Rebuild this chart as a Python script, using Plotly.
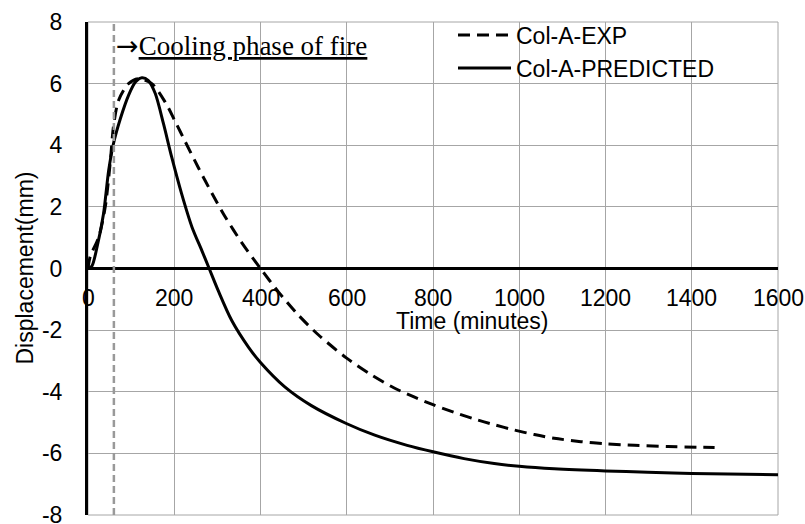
import plotly.graph_objects as go

# ---- data ----
exp_time = [0, 5, 25, 40, 52, 59, 71, 94, 117, 148, 179, 202, 225, 256, 287, 318, 356, 400,
            441, 487, 534, 599, 657, 709, 756, 800, 849, 895, 942, 988, 1035, 1081, 1143,
            1200, 1267, 1345, 1453]
exp_disp = [0, 0.38, 1.03, 2.0, 3.51, 4.6, 5.46, 6.0, 6.16, 6.0, 5.4, 4.78, 4.13, 3.27, 2.45,
            1.68, 0.85, 0, -0.75, -1.5, -2.15, -2.9, -3.45, -3.87, -4.17, -4.42, -4.67,
            -4.88, -5.07, -5.24, -5.39, -5.51, -5.62, -5.69, -5.74, -5.78, -5.81]

pred_time = [0, 9, 21, 36, 48, 59, 75, 94, 110, 125, 140, 156, 175, 194, 217, 241, 264, 281,
             302, 333, 372, 400, 457, 518, 599, 665, 740, 800, 872, 942, 1000, 1081, 1200,
             1298, 1400, 1600]
pred_disp = [0, 0.08, 0.7, 1.78, 3.19, 4.05, 4.86, 5.62, 6.05, 6.19, 6.1, 5.68, 4.7, 3.62,
             2.43, 1.35, 0.58, 0, -0.72, -1.68, -2.55, -3.05, -3.85, -4.45, -5.03, -5.41,
             -5.74, -5.95, -6.17, -6.33, -6.42, -6.50, -6.57, -6.61, -6.65, -6.69]

x_ticks = [0, 200, 400, 600, 800, 1000, 1200, 1400, 1600]
x_tick_labels = ["0", "200", "400", "600", "800", "1000", "1200", "1400", "1600"]
y_ticks = [-8, -6, -4, -2, 0, 2, 4, 6, 8]
y_tick_labels = ["-8", "-6", "-4", "-2", "0", "2", "4", "6", "8"]

cooling_start = 60
series_names = ["Col-A-EXP", "Col-A-PREDICTED"]

SANS = "Liberation Sans, Arial, sans-serif"
SERIF = "Liberation Serif, Times New Roman, serif"
GRID = "#a6a6a6"

fig = go.Figure()
fig.add_trace(go.Scatter(x=exp_time, y=exp_disp, mode="lines", name=series_names[0],
                         line=dict(color="black", width=3, dash="12px,7px", shape="spline", smoothing=0.8)))
fig.add_trace(go.Scatter(x=pred_time, y=pred_disp, mode="lines", name=series_names[1],
                         line=dict(color="black", width=3, shape="spline", smoothing=0.8)))

# cooling phase marker
fig.add_shape(type="line", xref="x", yref="paper", x0=cooling_start, x1=cooling_start, y0=0, y1=1,
              line=dict(color="#999999", width=2.5, dash="7px,4px"), layer="above")
# plot border
fig.add_shape(type="rect", xref="paper", yref="paper", x0=0, x1=1, y0=0, y1=1,
              line=dict(color=GRID, width=1), layer="below")

annotations = []
for v, lab in zip(x_ticks, x_tick_labels):
    annotations.append(dict(x=v, y=0, xref="x", yref="y", text=lab, showarrow=False,
                            xanchor="center", yanchor="middle", yshift=-29,
                            font=dict(family=SANS, size=23, color="black")))
annotations.append(dict(x=(472 - 88) / 690, y=(515 - 321) / 493, xref="paper", yref="paper",
                        text="Time (minutes)", showarrow=False, xanchor="center", yanchor="middle",
                        font=dict(family=SANS, size=23, color="black")))
annotations.append(dict(x=0, y=0.5, xref="paper", yref="paper", xshift=-64,
                        text="Displacement(mm)", textangle=-90, showarrow=False,
                        xanchor="center", yanchor="middle",
                        font=dict(family=SANS, size=23, color="black")))
annotations.append(dict(x=(114 - 88) / 690, y=(515 - 45) / 493, xref="paper", yref="paper",
                        text="<span style=\"font-family:DejaVu Sans\">→</span><u>Cooling phase of fire</u>",
                        showarrow=False, xanchor="left", yanchor="middle",
                        font=dict(family=SERIF, size=27, color="black")))

fig.update_layout(
    width=805, height=524,
    margin=dict(l=88, r=27, t=22, b=9, autoexpand=False),
    paper_bgcolor="white", plot_bgcolor="white",
    showlegend=True,
    legend=dict(x=(453 - 88) / 690, y=1.017, xanchor="left", yanchor="top",
                bgcolor="rgba(0,0,0,0)", borderwidth=0, tracegroupgap=0, itemwidth=53,
                font=dict(family=SANS, size=23, color="black")),
    xaxis=dict(range=[0, 1600], tickvals=x_ticks, showticklabels=False, showgrid=True,
               gridcolor=GRID, gridwidth=1, zeroline=False, showline=False, ticks="",
               automargin=False),
    yaxis=dict(range=[-8, 8], tickvals=y_ticks, ticktext=y_tick_labels, showgrid=True,
               gridcolor=GRID, gridwidth=1, zeroline=True, zerolinecolor="black", zerolinewidth=3,
               showline=True, linecolor="black", linewidth=3, ticks="", ticklabelstandoff=18,
               ticklabeloverflow="allow", automargin=False,
               tickfont=dict(family=SANS, size=23, color="black")),
    annotations=annotations,
)

fig.write_html("out.html")
